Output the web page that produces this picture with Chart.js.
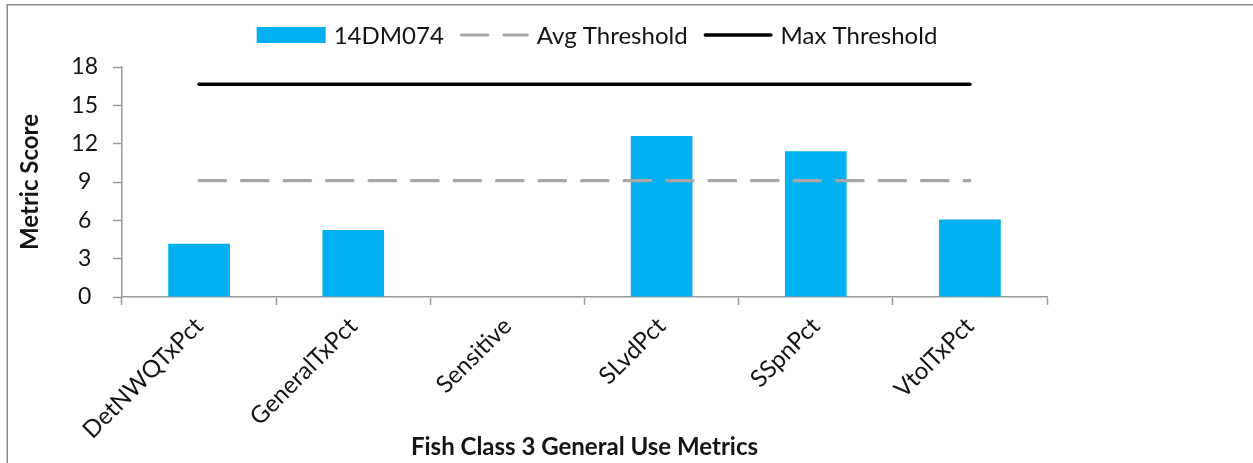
<!DOCTYPE html>
<html>
<head>
<meta charset="utf-8">
<script src="https://cdn.jsdelivr.net/npm/chart.js@4.4.1/dist/chart.umd.min.js"></script>
<style>
  html, body { margin: 0; padding: 0; background: #ffffff; }
  #wrap { position: relative; width: 1253px; height: 463px; }
</style>
</head>
<body>
<div id="wrap"><canvas id="chart" width="1253" height="463"></canvas></div>
<script>
// Fish Class 3 general use metric scores for station 14DM074
const categories = ['DetNWQTxPct', 'GeneralTxPct', 'Sensitive', 'SLvdPct', 'SSpnPct', 'VtolTxPct'];
const scores = [4.17, 5.25, 0, 12.6, 11.4, 6.06];
const avgThreshold = [9.1, 9.1, 9.1, 9.1, 9.1, 9.1];
const maxThreshold = [16.65, 16.65, 16.65, 16.65, 16.65, 16.65];
const yTickValues = [0, 3, 6, 9, 12, 15, 18];

const FONT = 'Lato, "Open Sans", sans-serif';
const AXIS_GREY = '#9a9a9a';
const TEXT = '#141414';

// Outer frame around the chart
const framePlugin = {
  id: 'frame',
  beforeDraw(chart) {
    const ctx = chart.ctx;
    ctx.save();
    ctx.fillStyle = '#ffffff';
    ctx.fillRect(0, 0, chart.width, chart.height);
    ctx.strokeStyle = '#8a8a8a';
    ctx.lineWidth = 1.5;
    ctx.strokeRect(7.25, 4.75, chart.width + 40, chart.height + 40);
    ctx.restore();
  }
};

// Single-row legend with wide swatches, drawn on the canvas
const legendRow = {
  id: 'legendRow',
  afterDraw(chart, args, opts) {
    const ctx = chart.ctx;
    const sw = opts.swatchWidth, gapIn = opts.gapInner, gapOut = opts.gapOuter;
    ctx.save();
    ctx.font = opts.font;
    ctx.textBaseline = 'middle';
    const items = chart.data.datasets.map(ds => ({ ds, w: ctx.measureText(ds.label).width }));
    let total = 0;
    items.forEach((it, i) => { total += sw + gapIn + it.w + (i < items.length - 1 ? gapOut : 0); });
    let x = opts.centerX - total / 2;
    const y = opts.y;
    items.forEach(it => {
      const ds = it.ds;
      if (ds.type === 'line') {
        ctx.save();
        ctx.strokeStyle = ds.borderColor;
        ctx.lineWidth = ds.borderWidth;
        ctx.lineCap = ds.borderCapStyle || 'butt';
        ctx.setLineDash(ds.borderDash || []);
        const inset = ds.borderWidth / 2;
        ctx.beginPath();
        ctx.moveTo(x + inset, y);
        ctx.lineTo(x + sw - inset, y);
        ctx.stroke();
        ctx.restore();
      } else {
        ctx.fillStyle = ds.backgroundColor;
        ctx.fillRect(x, y - opts.boxHeight / 2, sw, opts.boxHeight);
      }
      x += sw + gapIn;
      ctx.fillStyle = TEXT;
      ctx.fillText(ds.label, x, y + 1);
      x += it.w + gapOut;
    });
    ctx.restore();
  }
};

new Chart(document.getElementById('chart'), {
  type: 'bar',
  data: {
    labels: categories,
    datasets: [
      {
        type: 'bar',
        label: '14DM074',
        data: scores,
        backgroundColor: '#00B0F0',
        borderWidth: 0,
        categoryPercentage: 1.0,
        barPercentage: 0.4,
        order: 3
      },
      {
        type: 'line',
        label: 'Avg Threshold',
        data: avgThreshold,
        borderColor: '#A6A6A6',
        borderWidth: 3.2,
        borderDash: [26.5, 16],
        borderCapStyle: 'round',
        pointRadius: 0,
        fill: false,
        order: 2
      },
      {
        type: 'line',
        label: 'Max Threshold',
        data: maxThreshold,
        borderColor: '#000000',
        borderWidth: 3.6,
        borderCapStyle: 'round',
        pointRadius: 0,
        fill: false,
        order: 1
      }
    ]
  },
  plugins: [framePlugin, legendRow],
  options: {
    responsive: false,
    animation: false,
    devicePixelRatio: 1,
    layout: { padding: { left: 0, right: 206, top: 67, bottom: 0 } },
    plugins: {
      legend: { display: false },
      tooltip: { enabled: false },
      legendRow: {
        font: '24px ' + FONT,
        centerX: 597,
        y: 35,
        swatchWidth: 69,
        boxHeight: 16,
        gapInner: 8,
        gapOuter: 16
      }
    },
    scales: {
      x: {
        offset: true,
        grid: {
          offset: true,
          drawOnChartArea: false,
          drawTicks: true,
          tickLength: 8,
          tickWidth: 1.5,
          tickColor: AXIS_GREY
        },
        border: { color: AXIS_GREY, width: 1.5 },
        ticks: {
          minRotation: 45,
          maxRotation: 45,
          padding: 7,
          color: TEXT,
          font: { family: FONT, size: 24 }
        },
        title: {
          display: true,
          text: 'Fish Class 3 General Use Metrics',
          color: TEXT,
          font: { family: FONT, size: 24, weight: 'bold' },
          padding: { top: 1, bottom: 1 }
        },
        afterFit(scale) { scale.height = 166; }
      },
      y: {
        min: yTickValues[0],
        max: yTickValues[yTickValues.length - 1],
        afterBuildTicks(scale) { scale.ticks = yTickValues.map(v => ({ value: v })); },
        grid: {
          drawOnChartArea: false,
          drawTicks: true,
          tickLength: 9,
          tickWidth: 1.5,
          tickColor: AXIS_GREY
        },
        border: { color: AXIS_GREY, width: 1.5 },
        ticks: {
          crossAlign: 'center',
          padding: 15,
          color: TEXT,
          font: { family: FONT, size: 23 }
        },
        title: {
          display: true,
          text: 'Metric Score',
          color: TEXT,
          font: { family: FONT, size: 24, weight: 'bold' },
          padding: { top: 16, bottom: 0 }
        },
        afterFit(scale) { scale.width = 122; }
      }
    }
  }
});
</script>
</body>
</html>
